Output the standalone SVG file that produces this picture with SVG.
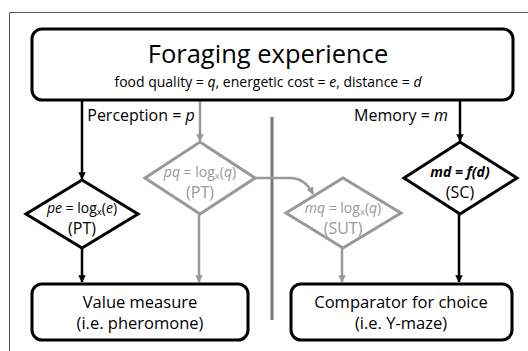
<svg xmlns="http://www.w3.org/2000/svg" width="528" height="351" viewBox="0 0 528 351">
<defs>
<style>
text{font-family:"Open Sans","Noto Sans","DejaVu Sans",sans-serif;text-anchor:middle}
.box{fill:#fff;stroke:#000;stroke-width:3}
.dk{fill:#fff;stroke:#000;stroke-width:3}
.dg{fill:#fff;stroke:#999;stroke-width:3}
.ck{fill:none;stroke:#000;stroke-width:2.5}
.cg{fill:none;stroke:#999;stroke-width:2.5}
.g{fill:#999}
.sub{font-size:9.5px;baseline-shift:-2px}
</style>
<marker id="ak" viewBox="0 0 10 10" refX="9" refY="5" markerWidth="3" markerHeight="3" orient="auto" markerUnits="strokeWidth"><path d="M0,0 L10,5 L0,10 z" fill="#000"/></marker>
<marker id="ag" viewBox="0 0 10 10" refX="9" refY="5" markerWidth="3" markerHeight="3" orient="auto" markerUnits="strokeWidth"><path d="M0,0 L10,5 L0,10 z" fill="#999"/></marker>
</defs>
<rect width="528" height="351" fill="#fff"/>
<path d="M9.5,351 V12.5 H528" fill="none" stroke="#555" stroke-width="1"/>
<line x1="272" y1="117" x2="272" y2="320" stroke="#777" stroke-width="3"/>
<g id="connectors">
<line class="ck" x1="82" y1="100" x2="82" y2="179" marker-end="url(#ak)"/>
<line class="ck" x1="82" y1="248" x2="82" y2="282" marker-end="url(#ak)"/>
<line class="cg" x1="200" y1="100" x2="200" y2="141" marker-end="url(#ag)"/>
<line class="cg" x1="199" y1="214" x2="199" y2="282" marker-end="url(#ag)"/>
<path class="cg" d="M255,178 H290 Q305,178 313,194" marker-end="url(#ag)"/>
<line class="cg" x1="342" y1="248" x2="342" y2="282" marker-end="url(#ag)"/>
<line class="ck" x1="460" y1="100" x2="460" y2="141" marker-end="url(#ak)"/>
<line class="ck" x1="459" y1="214" x2="459" y2="282" marker-end="url(#ak)"/>
</g>
<g id="top">
<rect class="box" x="32" y="29" width="481" height="71" rx="10"/>
<text x="268" y="63" font-size="25.5">Foraging experience</text>
<text x="268" y="87" font-size="14">food quality = <tspan font-style="italic">q</tspan>, energetic cost = <tspan font-style="italic">e</tspan>, distance = <tspan font-style="italic">d</tspan></text>
</g>
<text x="141" y="121" font-size="16">Perception = <tspan font-style="italic">p</tspan></text>
<text x="401" y="121" font-size="16">Memory = <tspan font-style="italic">m</tspan></text>
<g id="pe">
<polygon class="dk" points="82,180 138,214 82,248 26,214"/>
<text x="82" y="213" font-size="14"><tspan font-style="italic">pe</tspan> = log<tspan class="sub">x</tspan>(<tspan font-style="italic">e</tspan>)</text>
<text x="82" y="234" font-size="16">(PT)</text>
</g>
<g id="pq">
<polygon class="dg" points="200,142 255,178 200,214 145,178"/>
<text class="g" x="200" y="177" font-size="14"><tspan font-style="italic">pq</tspan> = log<tspan class="sub">x</tspan>(<tspan font-style="italic">q</tspan>)</text>
<text class="g" x="200" y="198" font-size="16">(PT)</text>
</g>
<g id="mq">
<polygon class="dg" points="343,178 401,213 343,248 286,213"/>
<text class="g" x="343" y="213" font-size="14"><tspan font-style="italic">mq</tspan> = log<tspan class="sub">x</tspan>(<tspan font-style="italic">q</tspan>)</text>
<text class="g" x="343" y="234" font-size="16">(SUT)</text>
</g>
<g id="md">
<polygon class="dk" points="460,142 517,178 460,214 404,178"/>
<text x="460" y="177" font-size="14" font-weight="bold" font-style="italic">md = f(d)</text>
<text x="460" y="198" font-size="16">(SC)</text>
</g>
<g id="value">
<rect class="box" x="32" y="284" width="216" height="56" rx="10"/>
<text x="140" y="308" font-size="16.5">Value measure</text>
<text x="140" y="329" font-size="16.5">(i.e. pheromone)</text>
</g>
<g id="comparator">
<rect class="box" x="291" y="284" width="221" height="56" rx="10"/>
<text x="401" y="308" font-size="16.5">Comparator for choice</text>
<text x="401" y="329" font-size="16.5">(i.e. Y-maze)</text>
</g>
</svg>
